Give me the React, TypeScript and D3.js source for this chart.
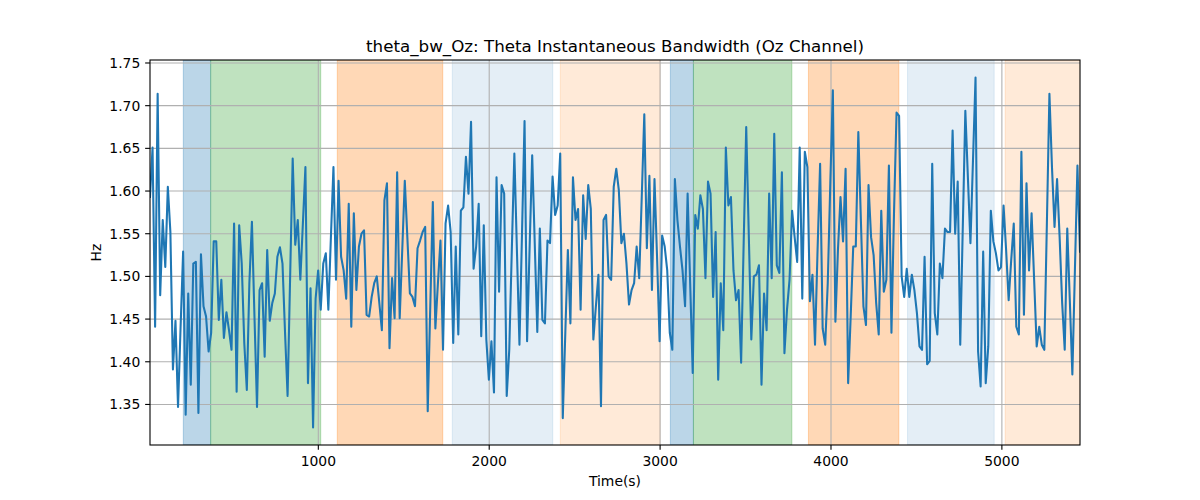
import React from 'react';
import * as d3 from 'd3';

// Sample times: first sample and sampling step (seconds)
const T0 = 15;
const DT = 14.91;

// Theta instantaneous bandwidth (Hz)
const bandwidth: number[] = [
  1.593, 1.651, 1.441, 1.714, 1.478, 1.566, 1.511, 1.605, 1.552, 1.391,
  1.448, 1.347, 1.44, 1.529, 1.338, 1.48, 1.373, 1.515, 1.517, 1.34,
  1.526, 1.465, 1.453, 1.412, 1.434, 1.541, 1.541, 1.449, 1.496, 1.428,
  1.458, 1.437, 1.414, 1.562, 1.365, 1.56, 1.515, 1.422, 1.367, 1.492,
  1.564, 1.453, 1.347, 1.484, 1.492, 1.406, 1.531, 1.448, 1.469, 1.48,
  1.523, 1.534, 1.515, 1.434, 1.36, 1.5, 1.638, 1.537, 1.566, 1.496,
  1.562, 1.628, 1.375, 1.486, 1.323, 1.474, 1.507, 1.461, 1.515, 1.527,
  1.461, 1.546, 1.628, 1.496, 1.612, 1.523, 1.507, 1.474, 1.585, 1.441,
  1.574, 1.484, 1.535, 1.55, 1.554, 1.455, 1.453, 1.476, 1.492, 1.5,
  1.469, 1.437, 1.589, 1.609, 1.416, 1.498, 1.451, 1.622, 1.451, 1.531,
  1.612, 1.546, 1.48, 1.476, 1.465, 1.533, 1.542, 1.552, 1.558, 1.342,
  1.465, 1.587, 1.439, 1.492, 1.542, 1.414, 1.562, 1.583, 1.552, 1.422,
  1.535, 1.432, 1.577, 1.581, 1.64, 1.597, 1.681, 1.509, 1.535, 1.585,
  1.43, 1.56, 1.426, 1.379, 1.424, 1.364, 1.616, 1.482, 1.607, 1.597,
  1.36, 1.414, 1.531, 1.644, 1.531, 1.42, 1.55, 1.682, 1.424, 1.535,
  1.642, 1.539, 1.435, 1.556, 1.449, 1.445, 1.542, 1.539, 1.617, 1.572,
  1.583, 1.644, 1.334, 1.434, 1.531, 1.445, 1.616, 1.566, 1.579, 1.461,
  1.595, 1.544, 1.607, 1.579, 1.426, 1.465, 1.502, 1.348, 1.566, 1.572,
  1.5, 1.496, 1.605, 1.626, 1.601, 1.539, 1.55, 1.515, 1.467, 1.484,
  1.492, 1.535, 1.498, 1.593, 1.69, 1.533, 1.618, 1.484, 1.614, 1.523,
  1.424, 1.548, 1.535, 1.507, 1.434, 1.414, 1.614, 1.566, 1.535, 1.507,
  1.465, 1.597, 1.492, 1.387, 1.572, 1.556, 1.595, 1.579, 1.498, 1.611,
  1.597, 1.476, 1.552, 1.379, 1.492, 1.437, 1.651, 1.583, 1.593, 1.507,
  1.472, 1.484, 1.399, 1.539, 1.675, 1.55, 1.426, 1.5, 1.502, 1.513,
  1.373, 1.48, 1.437, 1.597, 1.498, 1.667, 1.513, 1.504, 1.622, 1.41,
  1.461, 1.496, 1.577, 1.546, 1.517, 1.651, 1.474, 1.646, 1.628, 1.471,
  1.502, 1.42, 1.531, 1.632, 1.439, 1.42, 1.492, 1.609, 1.718, 1.447,
  1.531, 1.593, 1.541, 1.626, 1.375, 1.453, 1.535, 1.535, 1.669, 1.566,
  1.465, 1.443, 1.607, 1.546, 1.525, 1.469, 1.432, 1.577, 1.482, 1.496,
  1.63, 1.434, 1.574, 1.692, 1.688, 1.5, 1.476, 1.509, 1.476, 1.502,
  1.484, 1.457, 1.418, 1.414, 1.523, 1.397, 1.401, 1.632, 1.457, 1.432,
  1.515, 1.498, 1.556, 1.552, 1.552, 1.671, 1.55, 1.611, 1.42, 1.558,
  1.694, 1.616, 1.539, 1.636, 1.733, 1.412, 1.371, 1.529, 1.375, 1.418,
  1.577, 1.541, 1.527, 1.507, 1.511, 1.583, 1.531, 1.472, 1.519, 1.562,
  1.441, 1.432, 1.646, 1.455, 1.609, 1.507, 1.574, 1.496, 1.418, 1.441,
  1.42, 1.414, 1.562, 1.714, 1.628, 1.558, 1.614, 1.546, 1.469, 1.414,
  1.556, 1.472, 1.385, 1.507, 1.63, 1.529,
];

// Shaded state intervals (seconds)
const spanStart = [210, 370, 1111, 1784, 2416, 3060, 3195, 3868, 4448, 5019];
const spanEnd = [370, 1014, 1728, 2372, 3000, 3195, 3771, 4397, 4955, 5480];
const spanKind = ['blue', 'green', 'orange', 'lightblue', 'lightorange', 'blue', 'green', 'orange', 'lightblue', 'lightorange'];

const xTicks = [1000, 2000, 3000, 4000, 5000];
const yTicks = [1.35, 1.4, 1.45, 1.5, 1.55, 1.6, 1.65, 1.7, 1.75];

const TITLE = 'theta_bw_Oz: Theta Instantaneous Bandwidth (Oz Channel)';
const XLABEL = 'Time(s)';
const YLABEL = 'Hz';

const spanStyle: Record<string, { color: string; opacity: number }> = {
  blue: { color: '#1f77b4', opacity: 0.3 },
  green: { color: '#2ca02c', opacity: 0.3 },
  orange: { color: '#ff7f0e', opacity: 0.3 },
  lightblue: { color: '#1f77b4', opacity: 0.12 },
  lightorange: { color: '#ff7f0e', opacity: 0.16 },
};

export default function App() {
  const W = 1200, H = 500;
  const L = 150, R = 1080, T = 60, B = 445;
  const times = bandwidth.map((_, i) => T0 + i * DT);
  const x = d3.scaleLinear().domain([times[0], times[times.length - 1]]).range([L, R]);
  const [mn, mx] = d3.extent(bandwidth) as [number, number];
  const pad = (mx - mn) * 0.05;
  const y = d3.scaleLinear().domain([mn - pad, mx + pad]).range([B, T]);
  const line = d3.line<number>().x((_, i) => x(times[i])).y((d) => y(d));
  const font = 'DejaVu Sans, sans-serif';
  const tickLen = 4.86;

  return (
    <svg width={W} height={H} style={{ position: 'absolute', left: 0, top: 0, background: '#fff' }} fontFamily={font}>
      <defs>
        <clipPath id="plotclip"><rect x={L} y={T} width={R - L} height={B - T} /></clipPath>
      </defs>
      <g clipPath="url(#plotclip)">
        {spanStart.map((s, i) => {
          const st = spanStyle[spanKind[i]];
          const x0 = x(s), x1 = x(spanEnd[i]);
          return (
            <rect key={i} x={x0} y={T} width={x1 - x0} height={B - T}
              fill={st.color} fillOpacity={st.opacity} stroke={st.color} strokeOpacity={st.opacity} strokeWidth={1} />
          );
        })}
        {xTicks.map((t) => (
          <line key={'gx' + t} x1={x(t)} x2={x(t)} y1={T} y2={B} stroke="#b0b0b0" strokeWidth={1.1} />
        ))}
        {yTicks.map((t) => (
          <line key={'gy' + t} x1={L} x2={R} y1={y(t)} y2={y(t)} stroke="#b0b0b0" strokeWidth={1.1} />
        ))}
        <path d={line(bandwidth) || ''} fill="none" stroke="#1f77b4" strokeWidth={2.08} strokeLinejoin="round" strokeLinecap="square" />
      </g>
      <rect x={L} y={T} width={R - L} height={B - T} fill="none" stroke="#000" strokeWidth={1.1} />
      {xTicks.map((t) => (
        <g key={'tx' + t}>
          <line x1={x(t)} x2={x(t)} y1={B} y2={B + tickLen} stroke="#000" strokeWidth={1.1} />
          <text x={x(t)} y={B + tickLen + 4.9 + 11} textAnchor="middle" fontSize={13.9} fill="#000">{t}</text>
        </g>
      ))}
      {yTicks.map((t) => (
        <g key={'ty' + t}>
          <line x1={L - tickLen} x2={L} y1={y(t)} y2={y(t)} stroke="#000" strokeWidth={1.1} />
          <text x={L - tickLen - 4.9} y={y(t)} dy="0.35em" textAnchor="end" fontSize={13.9} fill="#000">{t.toFixed(2)}</text>
        </g>
      ))}
      <text x={(L + R) / 2} y={52} textAnchor="middle" fontSize={16.7} fill="#000">{TITLE}</text>
      <text x={(L + R) / 2} y={486} textAnchor="middle" fontSize={13.9} fill="#000">{XLABEL}</text>
      <text transform={`translate(101, ${(T + B) / 2}) rotate(-90)`} textAnchor="middle" fontSize={13.9} fill="#000">{YLABEL}</text>
    </svg>
  );
}
